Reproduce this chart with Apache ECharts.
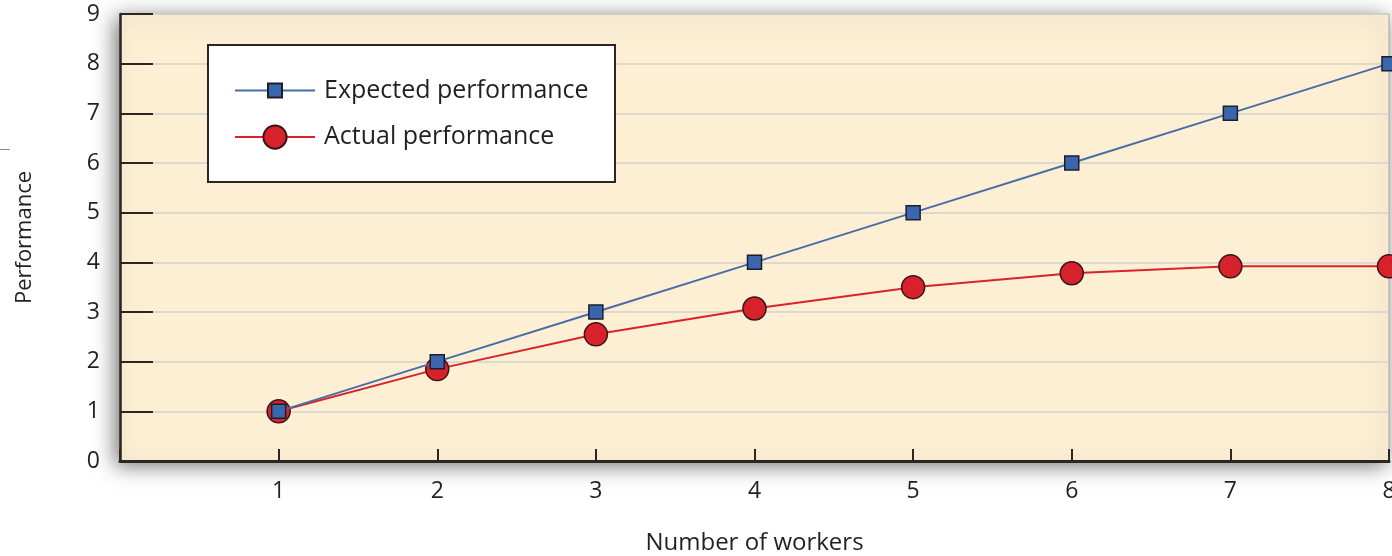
<!DOCTYPE html>
<html>
<head>
<meta charset="utf-8">
<script src="https://cdn.jsdelivr.net/npm/echarts@6/dist/echarts.min.js"></script>
<style>
  html, body { margin: 0; padding: 0; background: #ffffff; }
  #chart { width: 1392px; height: 556px; }
</style>
</head>
<body>
<div id="chart"></div>
<script>
// Team size vs. performance
const workers = [1, 2, 3, 4, 5, 6, 7, 8];
const expected = [1, 2, 3, 4, 5, 6, 7, 8];
const actual = [1, 1.85, 2.55, 3.07, 3.5, 3.78, 3.92, 3.92];
const yTicks = [0, 1, 2, 3, 4, 5, 6, 7, 8, 9];
const seriesNames = ['Expected performance', 'Actual performance'];

const FONT = '"Open Sans", "Noto Sans", sans-serif';
const INK = '#231f20';

const pairs = (xs, ys) => xs.map((x, i) => [x, ys[i]]);

const chart = echarts.init(document.getElementById('chart'), null, { renderer: 'canvas' });

chart.setOption({
  backgroundColor: '#ffffff',
  animation: false,
  grid: {
    left: 120, top: 14, right: 3, bottom: 95,
    containLabel: false,
    outerBoundsMode: 'none',
    show: true,
    backgroundColor: '#fdefd4',
    borderColor: '#a9a6a0',
    borderWidth: 1,
    shadowColor: 'rgba(0,0,0,0.55)',
    shadowBlur: 20,
    shadowOffsetX: -4,
    shadowOffsetY: 4
  },
  xAxis: {
    type: 'value',
    min: 0, max: 8, interval: 1,
    name: 'Number of workers',
    nameLocation: 'middle',
    nameGap: 70,
    nameTextStyle: { fontFamily: FONT, fontSize: 24, color: INK },
    axisLine: { show: true, onZero: false, lineStyle: { color: '#2b2523', width: 3 } },
    axisTick: { show: true, inside: true, length: 12, lineStyle: { color: '#2b2523', width: 2 } },
    axisLabel: {
      margin: 19,
      fontFamily: FONT, fontSize: 23, color: INK,
      formatter: v => (workers.indexOf(v) >= 0 ? String(v) : '')
    },
    splitLine: { show: false }
  },
  yAxis: {
    type: 'value',
    min: yTicks[0], max: yTicks[yTicks.length - 1], interval: 1,
    name: 'Performance',
    nameLocation: 'middle',
    nameRotate: 90,
    nameGap: 84,
    nameTextStyle: { fontFamily: FONT, fontSize: 22, color: INK },
    axisLine: { show: true, lineStyle: { color: '#2b2523', width: 2.5 } },
    axisTick: { show: true, inside: true, length: 33, lineStyle: { color: '#2b2523', width: 2 } },
    axisLabel: { margin: 20, fontFamily: FONT, fontSize: 23, color: INK },
    splitLine: { show: true, lineStyle: { color: '#d5d2cb', width: 1.5 } }
  },
  legend: [
    {
      data: [seriesNames[0]],
      left: 234, top: 78,
      padding: 0,
      itemWidth: 80, itemHeight: 17.5,
      textStyle: { fontFamily: FONT, fontSize: 25, color: INK, padding: [0, 0, 0, 4] },
      z: 6
    },
    {
      data: [seriesNames[1]],
      left: 234, top: 124.5,
      padding: 0,
      itemWidth: 80, itemHeight: 29,
      textStyle: { fontFamily: FONT, fontSize: 25, color: INK, padding: [0, 0, 0, 4] },
      z: 6
    }
  ],
  graphic: [
    {
      type: 'rect',
      z: 5,
      shape: { x: 208, y: 45, width: 407, height: 137 },
      style: { fill: '#ffffff', stroke: '#2b2523', lineWidth: 2 }
    },
    {
      type: 'line',
      z: 5,
      shape: { x1: 0, y1: 149.5, x2: 10, y2: 149.5 },
      style: { stroke: '#8a8a8a', lineWidth: 1 }
    }
  ],
  series: [
    {
      name: seriesNames[1],
      type: 'line',
      z: 2,
      data: pairs(workers, actual),
      symbol: 'circle',
      symbolSize: 23,
      lineStyle: { color: '#d8232c', width: 2 },
      itemStyle: { color: '#d8222b', borderColor: '#3a1416', borderWidth: 1.5 }
    },
    {
      name: seriesNames[0],
      type: 'line',
      z: 3,
      data: pairs(workers, expected),
      symbol: 'rect',
      symbolSize: 14,
      lineStyle: { color: '#4a6ca6', width: 2 },
      itemStyle: { color: '#3b66ad', borderColor: '#1d1e2c', borderWidth: 1.5 }
    }
  ]
});
</script>
</body>
</html>
